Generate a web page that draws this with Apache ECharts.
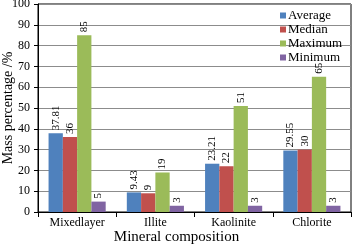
<!DOCTYPE html>
<html>
<head>
<meta charset="utf-8">
<script src="https://cdn.jsdelivr.net/npm/echarts@6/dist/echarts.min.js"></script>
<style>
  html, body { margin: 0; padding: 0; background: #fff; }
  #chart { width: 355px; height: 250px; }
</style>
</head>
<body>
<div id="chart"></div>
<script>
// 矿物组成
const categories = ['Mixedlayer', 'Illite', 'Kaolinite', 'Chlorite']
const averageData = [37.81, 9.43, 23.21, 29.55]
const medianData = [36, 9, 22, 30]
const maximumData = [85, 19, 51, 65]
const minimumData = [5, 3, 3, 3]
const yTicks = [0, 10, 20, 30, 40, 50, 60, 70, 80, 90, 100]

const font = 'Liberation Serif'
const myChart = echarts.init(document.getElementById('chart'))

function makeSeries(name, data, color) {
  return {
    name: name,
    type: 'bar',
    data: data,
    barGap: '0%',
    barCategoryGap: '27%',
    itemStyle: { color: color },
    label: {
      show: true,
      position: 'top',
      distance: 3,
      rotate: 90,
      align: 'left',
      verticalAlign: 'middle',
      color: '#000',
      fontFamily: font,
      fontSize: 11
    }
  }
}

const series = [
  makeSeries('Average', averageData, '#4F81BD'),
  makeSeries('Median', medianData, '#C0504D'),
  makeSeries('Maximum', maximumData, '#9BBB59'),
  makeSeries('Minimum', minimumData, '#8064A2')
]

const option = {
  animation: false,
  textStyle: { fontFamily: font },
  legend: {
    data: ['Average', 'Median', 'Maximum', 'Minimum'],
    orient: 'vertical',
    left: 280,
    top: 9,
    icon: 'rect',
    itemWidth: 6,
    itemHeight: 6,
    itemGap: 1,
    padding: 0,
    textStyle: { fontFamily: font, fontSize: 13, color: '#000', padding: [0, 0, 0, -3] }
  },
  grid: {
    left: 38,
    right: 4,
    top: 4,
    bottom: 38,
    outerBoundsMode: 'none',
    containLabel: false,
    show: true,
    borderColor: '#000',
    borderWidth: 1
  },
  xAxis: {
    type: 'category',
    data: categories,
    name: 'Mineral composition',
    nameLocation: 'middle',
    nameGap: 18,
    nameMoveOverlap: false,
    nameTextStyle: { fontFamily: font, fontSize: 15, color: '#000', padding: [0, 36, 0, 0] },
    axisLine: { lineStyle: { color: '#000' } },
    axisTick: { show: true, length: 5, lineStyle: { color: '#000' } },
    axisLabel: { fontFamily: font, fontSize: 12, color: '#000', margin: 5 }
  },
  yAxis: {
    type: 'value',
    min: 0,
    max: 100,
    interval: 10,
    name: 'Mass percentage /%',
    nameLocation: 'middle',
    nameGap: 23,
    nameMoveOverlap: false,
    nameTextStyle: { fontFamily: font, fontSize: 14, color: '#000' },
    axisLine: { show: true, lineStyle: { color: '#000' } },
    axisTick: { show: true, length: 4, lineStyle: { color: '#000' } },
    axisLabel: {
      fontFamily: font, fontSize: 12, color: '#000', margin: 8,
      formatter: val => yTicks.includes(val) ? String(val) : ''
    },
    splitLine: { show: true, lineStyle: { color: '#8c8c8c', width: 1 } }
  },
  series: series
}

myChart.setOption(option)
</script>
</body>
</html>
